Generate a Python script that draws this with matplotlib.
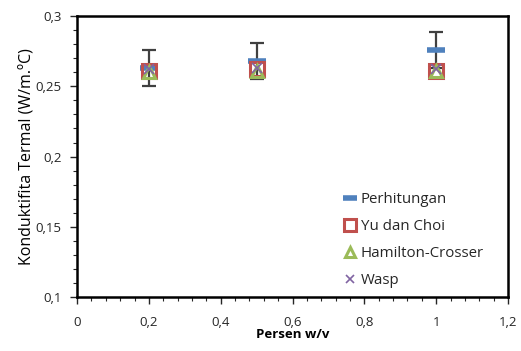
import matplotlib
matplotlib.use("Agg")
import matplotlib.pyplot as plt
from matplotlib.ticker import FuncFormatter, MultipleLocator

# data
persen = [0.2, 0.5, 1.0]
perhitungan = [0.263, 0.268, 0.276]
perhitungan_err = [0.013, 0.013, 0.013]
yu_choi = [0.261, 0.262, 0.261]
hamilton = [0.260, 0.261, 0.261]
wasp = [0.262, 0.263, 0.262]

plt.rcParams.update({
    "font.family": ["Open Sans", "DejaVu Sans"],
    "font.size": 9,
    "text.color": "#262626",
    "xtick.color": "#262626",
    "ytick.color": "#262626",
})


def comma(v, pos):
    return f"{v:g}".replace(".", ",")


fig = plt.figure(figsize=(5.21, 3.51), dpi=100)
ax = fig.add_axes([0.148, 0.154, 0.827, 0.80])

ax.errorbar(persen, perhitungan, yerr=perhitungan_err, fmt="none",
            ecolor="#404040", elinewidth=1.6, capsize=5, capthick=1.6, zorder=2)
ax.plot(persen, perhitungan, linestyle="none", marker="_", markersize=13,
        markeredgewidth=4, color="#4F81BD", label="Perhitungan", zorder=3)
ax.plot(persen, yu_choi, linestyle="none", marker="s", markersize=10,
        markerfacecolor="none", markeredgecolor="#C0504D", markeredgewidth=2.2,
        label="Yu dan Choi", zorder=4)
ax.plot(persen, hamilton, linestyle="none", marker="^", markersize=9,
        markerfacecolor="none", markeredgecolor="#9BBB59", markeredgewidth=2.2,
        label="Hamilton-Crosser", zorder=5)
ax.plot(persen, wasp, linestyle="none", marker="x", markersize=7,
        color="#8064A2", markeredgewidth=1.2, label="Wasp", zorder=6)

ax.set_xlim(0, 1.2)
ax.set_ylim(0.1, 0.3)
ax.xaxis.set_major_locator(MultipleLocator(0.2))
ax.xaxis.set_minor_locator(MultipleLocator(0.04))
ax.yaxis.set_major_locator(MultipleLocator(0.05))
ax.yaxis.set_minor_locator(MultipleLocator(0.01))
ax.xaxis.set_major_formatter(FuncFormatter(comma))
ax.yaxis.set_major_formatter(FuncFormatter(comma))
ax.tick_params(which="major", direction="out", length=5, width=1, labelsize=9.5)
ax.tick_params(which="minor", direction="out", length=3, width=0.8)
ax.tick_params(axis="x", pad=9)
ax.tick_params(axis="y", pad=6)

for sp in ax.spines.values():
    sp.set_linewidth(1.8)
    sp.set_color("black")

ax.set_xlabel("Persen w/v", fontweight="bold", fontsize=9.5, labelpad=-1)
ax.set_ylabel("Konduktifita Termal (W/m.ºC)", fontsize=11.5, labelpad=0)

ax.legend(loc="upper left", bbox_to_anchor=((338 - 77) / 431, (297 - 186) / 281),
          frameon=False, fontsize=10.8, handlelength=0.8, handletextpad=0.3,
          labelspacing=0.8, borderaxespad=0, markerscale=0.8)

fig.savefig("out.png", dpi=100)
